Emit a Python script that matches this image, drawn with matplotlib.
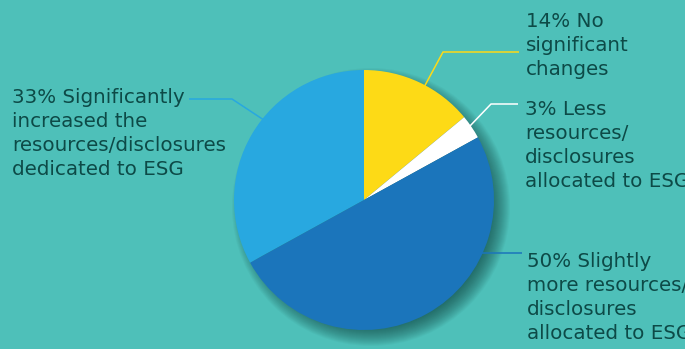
import numpy as np
import matplotlib.pyplot as plt
from matplotlib.patches import Circle

# data
shares = [14, 3, 50, 33]
labels = [
    "14% No\nsignificant\nchanges",
    "3% Less\nresources/\ndisclosures\nallocated to ESG",
    "50% Slightly\nmore resources/\ndisclosures\nallocated to ESG",
    "33% Significantly\nincreased the\nresources/disclosures\ndedicated to ESG",
]
colors = ["#FDDA16", "#FFFFFF", "#1B75BB", "#28A8E0"]

bg = "#4EC0B9"
txt = "#0D4A47"

fig = plt.figure(figsize=(6.85, 3.49), dpi=100)
fig.patch.set_facecolor(bg)
ax = fig.add_axes([0, 0, 1, 1])

cx, cy, r = 364, 149, 130

# soft shadow to the lower right
for k in range(20):
    ax.add_patch(Circle((cx + 7, cy - 7), r + 9 - k, color="#0f3d3a",
                        alpha=0.045, lw=0, zorder=1))

wedges, _ = ax.pie(shares, colors=colors, startangle=90, counterclock=False,
                   center=(cx, cy), radius=r, frame=True,
                   wedgeprops=dict(linewidth=0, zorder=2))
ax.set_xlim(0, 685)
ax.set_ylim(0, 349)
ax.set_aspect("equal")
ax.axis("off")

# leader lines: angle on pie (deg, clockwise from top), elbow point, end x
leaders = [
    (28, (443, 297), 519),
    (56, (491, 245), 518),
    (117, None, 522),
    (309, (232, 250), 189),
]
text_pos = [(526, 337), (525, 249), (527, 97), (12, 261)]

for (ang, elbow, endx), c in zip(leaders, colors):
    a = np.deg2rad(ang)
    rr = 0.92 if elbow is not None else 0.89
    sx = cx + r * rr * np.sin(a)
    sy = cy + r * rr * np.cos(a)
    if elbow is None:
        elbow = (sx, sy)
    ax.plot([sx, elbow[0], endx], [sy, elbow[1], elbow[1]], color=c, lw=1.1,
            zorder=3, solid_capstyle="butt")

for lab, (x, y) in zip(labels, text_pos):
    ax.text(x, y, lab, ha="left", va="top", color=txt, fontsize=14.3,
            family="DejaVu Sans", linespacing=1.33)

fig.savefig("out.png", dpi=100, facecolor=bg)
